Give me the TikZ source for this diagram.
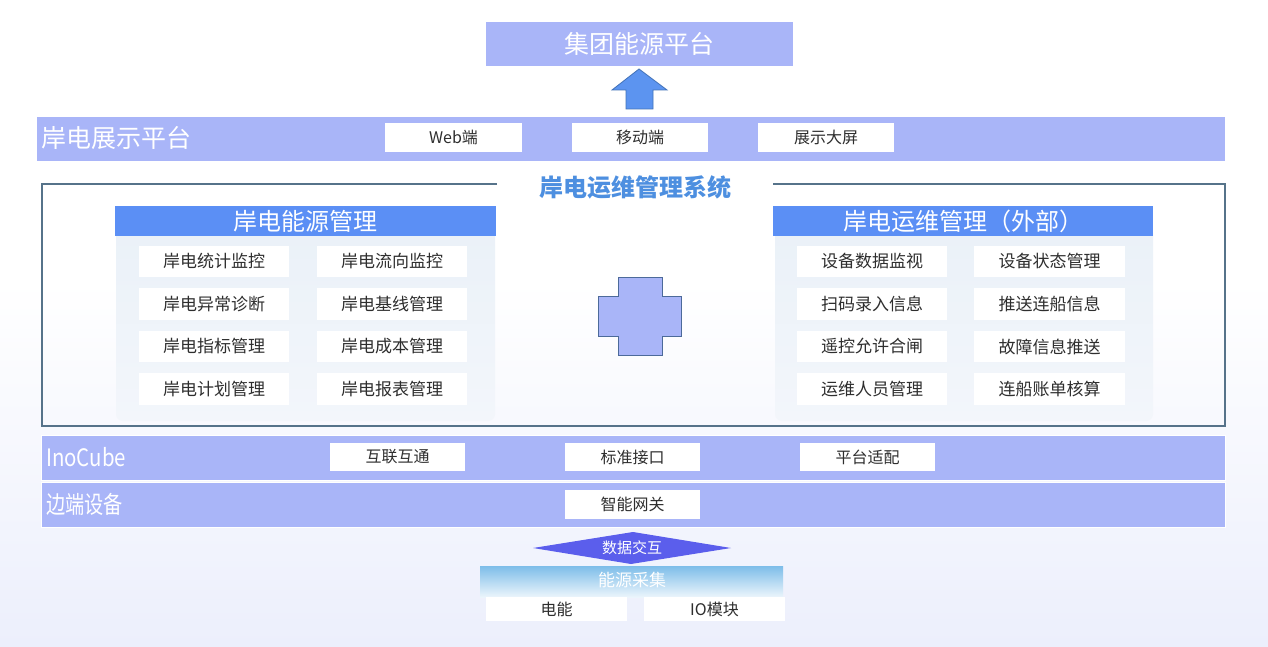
\documentclass[tikz,border=0pt]{standalone}
\usepackage{fontspec}
\setmainfont{Noto Sans CJK SC}
\usetikzlibrary{calc}
\definecolor{band}{HTML}{A9B5F8}
\definecolor{head}{HTML}{5B8FF5}
\definecolor{arrowfill}{HTML}{5C94F0}
\definecolor{arrowline}{HTML}{4272B8}
\definecolor{frameline}{HTML}{56738A}
\definecolor{crossline}{HTML}{4C6A9A}
\definecolor{titleblue}{HTML}{4D8FE0}
\definecolor{txt}{HTML}{2E2E2E}
\definecolor{bgb}{HTML}{ECEFFC}
\definecolor{panel}{HTML}{EAF1F8}
\definecolor{panelb}{HTML}{F3F6FB}
\definecolor{dia}{HTML}{5B5EEC}
\definecolor{collect}{HTML}{7DBDE9}
\newcommand\bx[7]{\pgfmathsetmacro\bw{#4-#2}\pgfmathsetmacro\bh{#5-#3}%
  \node[#6,minimum width=\bw pt,minimum height=\bh pt] (#1) at ({(#2+#4)/2},{(#3+#5)/2}) {#7};}
\tikzset{
  bandbox/.style={fill=band,draw=white,line width=0.6pt,inner sep=0pt},
  whitebox/.style={fill=white,inner sep=0pt,text=txt,font=\fontsize{16}{18}\selectfont},
  itembox/.style={fill=white,inner sep=0pt,text=txt,font=\fontsize{17}{19}\selectfont},
  headbox/.style={fill=head,inner sep=0pt,text=white,font=\fontsize{24}{27}\selectfont},
  bandlabel/.style={text=white,anchor=west,inner sep=0pt,font=\fontsize{24}{27}\selectfont},
}
\begin{document}
\begin{tikzpicture}[x=1pt,y=-1pt]
\useasboundingbox (0,0) rectangle (1268,647);
\fill[white] (0,0) rectangle (1268,647);
\shade[top color=white,bottom color=bgb] (0,280) rectangle (1268,647);
% top platform
\bx{top}{486}{22}{793}{66}{fill=band,inner sep=0pt,text=white,font=\fontsize{25}{28}\selectfont}{集团能源平台}
% block arrow
\draw[fill=arrowfill,draw=arrowline,line width=0.8pt,line join=miter]
  (639,69) -- (667,90) -- (653,90) -- (653,109) -- (626,109) -- (626,90) -- (612,90) -- cycle;
% display platform band
\bx{disp}{36}{116}{1225}{161}{bandbox}{}
\node[bandlabel,font=\fontsize{25}{28}\selectfont] (displabel) at (41,138) {岸电展示平台};
\bx{web}{385}{123}{522}{152}{whitebox}{Web端}
\bx{mobile}{572}{123}{708}{152}{whitebox}{移动端}
\bx{screen}{758}{123}{894}{152}{whitebox}{展示大屏}
% outer frame
\draw[frameline,line width=1.6pt] (497,184) -- (42,184) -- (42,426) -- (1225,426) -- (1225,184) -- (773,184);
\node[text=titleblue,font=\bfseries\fontsize{24}{27}\selectfont,inner sep=0pt] (systitle) at (635,187) {岸电运维管理系统};
% left panel
\shade[top color=panel,bottom color=panelb,rounded corners=7pt] (116,226) rectangle (495,421);
\bx{lhead}{115}{206}{496}{236}{headbox}{岸电能源管理}
\bx{l11}{139}{246}{289}{277}{itembox}{岸电统计监控}
\bx{l12}{317}{246}{467}{277}{itembox}{岸电流向监控}
\bx{l21}{139}{288}{289}{320}{itembox}{岸电异常诊断}
\bx{l22}{317}{288}{467}{320}{itembox}{岸电基线管理}
\bx{l31}{139}{331}{289}{362}{itembox}{岸电指标管理}
\bx{l32}{317}{331}{467}{362}{itembox}{岸电成本管理}
\bx{l41}{139}{373}{289}{405}{itembox}{岸电计划管理}
\bx{l42}{317}{373}{467}{405}{itembox}{岸电报表管理}
% right panel
\shade[top color=panel,bottom color=panelb,rounded corners=7pt] (775,226) rectangle (1153,421);
\bx{rhead}{773}{206}{1153}{236}{headbox}{岸电运维管理（外部）}
\bx{r11}{797}{246}{947}{277}{itembox}{设备数据监视}
\bx{r12}{974}{246}{1125}{277}{itembox}{设备状态管理}
\bx{r21}{797}{288}{947}{320}{itembox}{扫码录入信息}
\bx{r22}{974}{288}{1125}{320}{itembox}{推送连船信息}
\bx{r31}{797}{331}{947}{362}{itembox}{遥控允许合闸}
\bx{r32}{974}{331}{1125}{362}{itembox}{故障信息推送}
\bx{r41}{797}{373}{947}{405}{itembox}{运维人员管理}
\bx{r42}{974}{373}{1125}{405}{itembox}{连船账单核算}
% plus sign
\draw[fill=band,draw=crossline,line width=1pt]
  (618,277) -- (662,277) -- (662,296) -- (681,296) -- (681,336) -- (662,336) -- (662,355)
  -- (618,355) -- (618,336) -- (598,336) -- (598,296) -- (618,296) -- cycle;
% InoCube band
\bx{ino}{41}{435}{1225}{480}{bandbox}{}
\node[bandlabel] (inolabel) at (46,457) {\scalebox{0.85}[1]{InoCube}};
\bx{i1}{330}{443}{465}{471}{whitebox}{互联互通}
\bx{i2}{565}{443}{700}{471}{whitebox}{标准接口}
\bx{i3}{800}{443}{935}{471}{whitebox}{平台适配}
% edge device band
\bx{edge}{41}{482}{1225}{527}{bandbox}{}
\node[bandlabel] (edgelabel) at (46,504) {\scalebox{0.8}[1]{边端设备}};
\bx{gw}{565}{490}{700}{519}{whitebox}{智能网关}
% data exchange diamond
\fill[dia] (533,548) -- (633,532) -- (731,548) -- (631,564) -- cycle;
\node[text=white,font=\fontsize{15}{17}\selectfont,inner sep=0pt] (exch) at (632,548) {数据交互};
% energy collection
\shade[top color=collect,bottom color=white!85!collect] (480,566) rectangle (783,597);
\node[text=white,font=\fontsize{17}{19}\selectfont,inner sep=0pt] (collect) at (632,580) {能源采集};
\bx{elec}{486}{597}{627}{621}{whitebox}{电能}
\bx{io}{644}{597}{785}{621}{whitebox}{IO模块}
\end{tikzpicture}
\end{document}
